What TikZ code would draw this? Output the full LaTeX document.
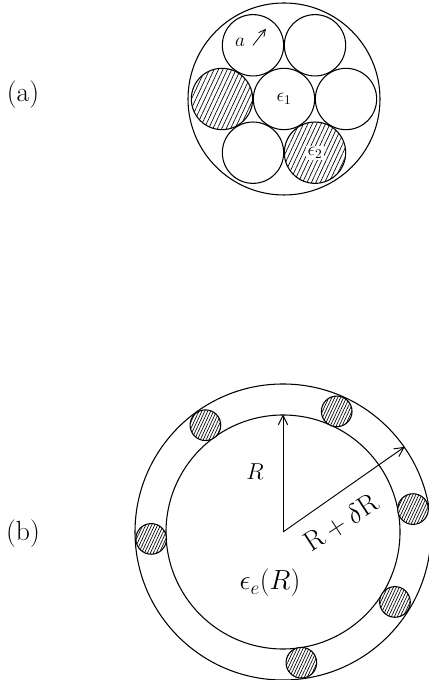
\documentclass[tikz,border=0pt]{standalone}
\usepackage{amsmath,amssymb}
\usetikzlibrary{positioning,arrows.meta,calc,patterns.meta}
\tikzset{
  bnd/.style={circle,draw,line width=0.8pt,inner sep=0pt},
  grain/.style={bnd,minimum size=46pt,font=\Large},
  hatch/.style={preaction={fill=white},pattern={Lines[angle=65,distance=#1,line width=0.5pt]}},
  dgrain/.style={grain,hatch=3pt},
  incl/.style={bnd,hatch=2pt,minimum size=23pt},
  rad/.style={line width=0.7pt,-{Straight Barb[length=7pt,width=7pt]}},
  plab/.style={font=\huge}
}
\begin{document}
\begin{tikzpicture}[x=0.75pt,y=0.75pt]
  \useasboundingbox[fill=white] (0,0) rectangle (428,680);
  % (a) packed grains
  \node[plab] (laba) at (23,585) {(a)};
  \node[bnd,minimum size=144pt] (cella) at (284,581) {};
  \node[grain] (g0) at (284,581) {$\epsilon_1$};
  \node[grain] (g1) at ($(g0)+(0:62)$) {};
  \node[grain] (g2) at ($(g0)+(60:62)$) {};
  \node[grain] (g3) at ($(g0)+(120:62)$) {};
  \node[dgrain] (g4) at ($(g0)+(180:62)$) {};
  \node[grain] (g5) at ($(g0)+(240:62)$) {};
  \node[dgrain] (g6) at ($(g0)+(300:62)$) {};
  \node[fill=white,inner sep=1pt,font=\Large] (e2lab) at (g6) {$\epsilon_2$};
  \coordinate (atip) at ($(g3)+(52:21)$);
  \draw[line width=0.6pt,-{Straight Barb[length=5pt,width=5pt]}] (g3.center) -- (atip);
  \node[font=\Large] (alab) at (240,638) {$a$};
  % (b) shell around the sphere
  \node[plab] (labb) at (23,146) {(b)};
  \coordinate (O) at (283,148);
  \node[bnd,minimum size=222pt] (outb) at (O) {};
  \node[bnd,minimum size=175.5pt] (inb) at (O) {};
  \foreach \ang [count=\i] in {126,66,10,183,-32,-82}
    \node[incl] (inc\i) at ($(O)+(\ang:132)$) {};
  \draw[rad] (O) -- (inb.north);
  \draw[rad] (O) -- (outb.35);
  \node[font=\LARGE] (rlab) at (255,208) {$R$};
  \node[font=\huge,rotate=33] (drlab) at (341,157) {$\mathrm{R}+\delta\mathrm{R}$};
  \node[font=\huge] (elab) at (270,97) {$\epsilon_e(R)$};
\end{tikzpicture}
\end{document}
